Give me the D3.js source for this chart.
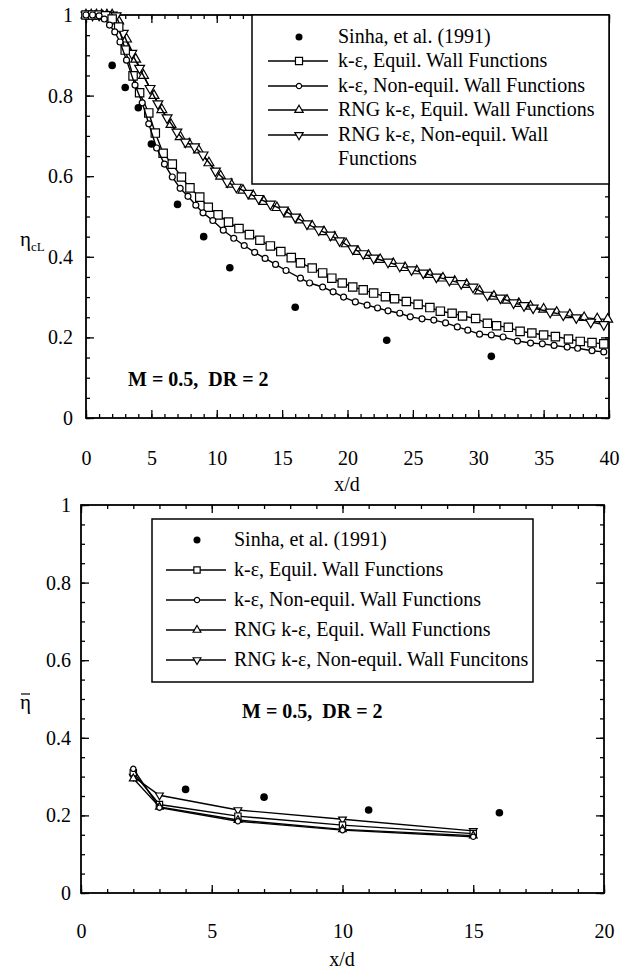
<!DOCTYPE html>
<html>
<head>
<meta charset="utf-8">
<script src="https://cdn.jsdelivr.net/npm/d3@7"></script>
<style>
body { margin: 0; background: #fff; }
text { font-family: "Liberation Serif", "Times New Roman", serif; fill: #000; }
</style>
</head>
<body>
<script>
// ---- top chart data (centreline effectiveness) ----
var sinhaX = [2, 3, 4, 5, 7, 9, 11, 16, 23, 31];
var sinhaY = [0.875, 0.82, 0.77, 0.68, 0.53, 0.45, 0.373, 0.275, 0.193, 0.153];

var keEqX = [0,0.5,1,1.5,2,2.5,3,3.6,4.1,4.8,5.3,5.9,6.6,7.3,7.95,8.7,9.35,10.1,10.9,11.7,12.5,13.3,14.1,14.9,15.7,16.4,17.3,18.1,18.8,19.6,20.4,21.2,22,22.9,23.6,24.5,25.4,26.3,27.1,28,28.8,29.8,30.7,31.4,32.3,33.2,34.1,35,35.9,36.9,37.8,38.7,39.6];
var keEqY = [1,1,1,0.998,0.99,0.97,0.913,0.849,0.807,0.757,0.707,0.657,0.63,0.598,0.571,0.548,0.523,0.504,0.486,0.47,0.455,0.441,0.427,0.413,0.398,0.385,0.372,0.36,0.347,0.335,0.325,0.318,0.31,0.301,0.296,0.289,0.282,0.274,0.265,0.26,0.253,0.247,0.235,0.229,0.225,0.215,0.211,0.206,0.202,0.196,0.19,0.187,0.184];

var keNeX = [0,0.5,1,1.4,1.8,2.2,2.6,3.1,3.75,4.3,4.8,5.4,6,6.6,7.2,7.8,8.4,8.95,9.7,10.5,11.3,12.1,12.9,13.7,14.5,15.3,16.4,17.1,18.1,18.9,19.7,20.6,21.5,22.3,23.1,24,24.8,25.7,26.6,27.5,28.4,29.2,30.1,31,31.9,33,34,34.9,35.8,36.8,37.6,38.7,39.6];
var keNeY = [1,1,0.998,0.99,0.975,0.958,0.933,0.888,0.826,0.782,0.73,0.67,0.63,0.598,0.57,0.55,0.528,0.509,0.49,0.466,0.446,0.428,0.411,0.396,0.381,0.366,0.347,0.335,0.325,0.313,0.3,0.288,0.28,0.273,0.266,0.26,0.251,0.246,0.243,0.236,0.226,0.218,0.208,0.206,0.201,0.191,0.186,0.184,0.18,0.176,0.173,0.167,0.164];

var rngEqX = [0,0.4,0.8,1.2,1.6,2,2.5,3.1,3.8,4.4,5.2,5.8,6.5,7.2,7.9,8.6,9.4,10.3,11.1,12,12.8,13.6,14.6,15.5,16.4,17.3,18.2,19,19.9,20.8,21.6,22.5,23.5,24.4,25.3,26.3,27.3,28.2,29.1,30.1,31.2,32.2,33.1,34,35,36,37,38.1,39.1,39.9];
var rngEqY = [1,1,1,1,1,1,0.985,0.94,0.89,0.85,0.8,0.765,0.728,0.698,0.68,0.665,0.633,0.6,0.58,0.565,0.551,0.537,0.522,0.506,0.491,0.476,0.462,0.449,0.432,0.413,0.403,0.393,0.383,0.373,0.365,0.356,0.347,0.339,0.331,0.315,0.302,0.292,0.284,0.277,0.27,0.262,0.256,0.249,0.246,0.245];

var rngNeX = [0,0.5,1,1.5,2,2.3,2.85,3.5,4.1,4.9,5.5,6.2,6.95,7.6,8.3,8.95,9.9,10.8,11.5,12.4,13.2,14.1,15.1,16,16.9,17.8,18.7,19.4,20.4,21.2,22,23.1,24,24.9,25.8,26.8,27.8,28.7,29.6,30.7,31.7,32.7,33.5,34.2,35.5,36.5,37.5,38.6,39.6];
var rngNeY = [1,1,1,1,1,0.998,0.955,0.905,0.868,0.818,0.78,0.745,0.71,0.685,0.673,0.653,0.613,0.586,0.573,0.558,0.545,0.531,0.516,0.499,0.482,0.467,0.454,0.44,0.42,0.408,0.397,0.387,0.377,0.368,0.36,0.35,0.342,0.334,0.325,0.305,0.298,0.286,0.279,0.273,0.263,0.256,0.249,0.238,0.232];

// ---- bottom chart data (laterally averaged effectiveness) ----
var bSinhaX = [4, 7, 11, 16];
var bSinhaY = [0.267, 0.247, 0.214, 0.207];
var bX = [2, 3, 6, 10, 15];
var bKeEq = [0.31, 0.228, 0.198, 0.175, 0.153];
var bKeNe = [0.32, 0.22, 0.185, 0.162, 0.145];
var bRngEq = [0.295, 0.222, 0.188, 0.164, 0.148];
var bRngNe = [0.30, 0.252, 0.214, 0.19, 0.16];

// ---- ticks and labels ----
var topXTicks = [0, 5, 10, 15, 20, 25, 30, 35, 40];
var topXLabels = ["0", "5", "10", "15", "20", "25", "30", "35", "40"];
var botXTicks = [0, 5, 10, 15, 20];
var botXLabels = ["0", "5", "10", "15", "20"];
var yTicks = [0, 0.2, 0.4, 0.6, 0.8, 1];
var yLabels = ["0", "0.2", "0.4", "0.6", "0.8", "1"];

var topLegend = ["Sinha, et al. (1991)", "k-ε, Equil. Wall Functions", "k-ε, Non-equil. Wall Functions",
                 "RNG k-ε, Equil. Wall Functions", ["RNG k-ε, Non-equil. Wall", "Functions"]];
var botLegend = ["Sinha, et al. (1991)", "k-ε, Equil. Wall Functions", "k-ε, Non-equil. Wall Functions",
                 "RNG k-ε, Equil. Wall Functions", "RNG k-ε, Non-equil. Wall Funcitons"];
var caseLabel = "M = 0.5,  DR = 2";

var width = 620, height = 971;
var svg = d3.select("body").append("svg")
    .attr("width", width)
    .attr("height", height);

var xTop = d3.scaleLinear().domain([0, 40]).range([86, 609]);
var yTop = d3.scaleLinear().domain([0, 1]).range([418, 15]);
var xBot = d3.scaleLinear().domain([0, 20]).range([81, 604]);
var yBot = d3.scaleLinear().domain([0, 1]).range([893, 505]);

var symTypes = {sq: d3.symbolSquare, ci: d3.symbolCircle, tu: d3.symbolTriangle, td: d3.symbolTriangle};

function marker(g, kind, size, cx, cy) {
  g.append("path")
    .attr("d", d3.symbol().type(symTypes[kind]).size(size)())
    .attr("transform", "translate(" + cx + "," + cy + ")" + (kind == "td" ? " rotate(180)" : ""))
    .attr("fill", "#fff")
    .attr("stroke", "#000")
    .attr("stroke-width", 1.2);
}

function frame(x, y, xTicks, xLabels, xMinor, xPad, yPad) {
  var g = svg.append("g");
  var xl = x.range()[0], xr = x.range()[1], yb = y.range()[0], yt = y.range()[1];
  var yMinor = d3.range(0, 1.001, 0.05);

  function put(axis, tr) {
    var a = g.append("g").attr("transform", tr).call(axis);
    a.select(".domain").remove();
    a.selectAll("line").attr("stroke", "#000").attr("stroke-width", 1.3);
    a.attr("font-family", null).attr("font-size", 20);
    return a;
  }
  put(d3.axisBottom(x).tickValues(xMinor).tickSize(-4).tickFormat(""), "translate(0," + yb + ")");
  put(d3.axisTop(x).tickValues(xMinor).tickSize(-4).tickFormat(""), "translate(0," + yt + ")");
  put(d3.axisLeft(y).tickValues(yMinor).tickSize(-4).tickFormat(""), "translate(" + xl + ",0)");
  put(d3.axisRight(y).tickValues(yMinor).tickSize(-4).tickFormat(""), "translate(" + xr + ",0)");

  put(d3.axisBottom(x).tickValues(xTicks).tickSize(-8).tickPadding(xPad)
        .tickFormat(function(d, i) { return xLabels[i]; }), "translate(0," + yb + ")");
  put(d3.axisTop(x).tickValues(xTicks).tickSize(-8).tickFormat(""), "translate(0," + yt + ")");
  put(d3.axisLeft(y).tickValues(yTicks).tickSize(-8).tickPadding(yPad)
        .tickFormat(function(d, i) { return yLabels[i]; }), "translate(" + xl + ",0)");
  put(d3.axisRight(y).tickValues(yTicks).tickSize(-8).tickFormat(""), "translate(" + xr + ",0)");

  g.append("rect")
    .attr("x", xl).attr("y", yt)
    .attr("width", xr - xl).attr("height", yb - yt)
    .attr("fill", "none").attr("stroke", "#000").attr("stroke-width", 1.8);
  return g;
}

function series(x, y, xs, ys, kind, size) {
  var pts = xs.map(function(d, i) { return [d, ys[i]]; });
  var g = svg.append("g");
  var line = d3.line().x(function(d) { return x(d[0]); }).y(function(d) { return y(d[1]); });
  g.append("path").attr("d", line(pts)).attr("fill", "none").attr("stroke", "#000").attr("stroke-width", 1.4);
  pts.forEach(function(p) { marker(g, kind, size, x(p[0]), y(p[1])); });
}

function dots(x, y, xs, ys) {
  svg.append("g").selectAll("circle")
    .data(xs)
    .enter()
    .append("circle")
    .attr("cx", function(d) { return x(d); })
    .attr("cy", function(d, i) { return y(ys[i]); })
    .attr("r", 3.8)
    .attr("fill", "#000");
}

function legend(box, rows, labels, lx, size) {
  var g = svg.append("g");
  g.append("rect")
    .attr("x", box[0]).attr("y", box[1]).attr("width", box[2]).attr("height", box[3])
    .attr("fill", "#fff").attr("stroke", "#000").attr("stroke-width", 1.5);
  var kinds = ["dot", "sq", "ci", "tu", "td"];
  kinds.forEach(function(k, i) {
    var cy = rows[i];
    if (k == "dot") {
      g.append("circle").attr("cx", lx[1]).attr("cy", cy).attr("r", 3.5).attr("fill", "#000");
    } else {
      g.append("line").attr("x1", lx[0]).attr("x2", lx[2]).attr("y1", cy).attr("y2", cy)
        .attr("stroke", "#000").attr("stroke-width", 1.4);
      marker(g, k, size[k], lx[1], cy);
    }
    var lab = labels[i];
    var t = g.append("text").attr("x", lx[3]).attr("y", cy + 6).attr("font-size", 20);
    if (Array.isArray(lab)) {
      lab.forEach(function(s, j) {
        t.append("tspan").attr("x", lx[3]).attr("dy", j ? rows[1] - rows[0] : 0).text(s);
      });
    } else {
      t.text(lab);
    }
  });
}

// ===== top chart =====
frame(xTop, yTop, topXTicks, topXLabels, d3.range(0, 41, 1), 33, 13);
series(xTop, yTop, rngEqX, rngEqY, "tu", 42);
series(xTop, yTop, rngNeX, rngNeY, "td", 42);
series(xTop, yTop, keEqX, keEqY, "sq", 70);
series(xTop, yTop, keNeX, keNeY, "ci", 28);
dots(xTop, yTop, sinhaX, sinhaY);
legend([252, 15, 357, 169], [37, 61, 86, 110, 135], topLegend, [268, 299, 328, 338],
       {sq: 50, ci: 22, tu: 30, td: 30});

svg.append("text").attr("x", 128).attr("y", 386).attr("font-size", 20)
  .attr("font-weight", "bold").style("white-space", "pre").text(caseLabel);
svg.append("text").attr("x", 347).attr("y", 491).attr("font-size", 20)
  .attr("text-anchor", "middle").text("x/d");
var yt = svg.append("text").attr("x", 20).attr("y", 246).attr("font-size", 21);
yt.append("tspan").text("η");
yt.append("tspan").attr("font-size", 13).attr("dy", 5).text("cL");

// ===== bottom chart =====
frame(xBot, yBot, botXTicks, botXLabels, d3.range(0, 21, 1), 31, 10);
series(xBot, yBot, bX, bRngNe, "td", 26);
series(xBot, yBot, bX, bKeEq, "sq", 40);
series(xBot, yBot, bX, bRngEq, "tu", 26);
series(xBot, yBot, bX, bKeNe, "ci", 22);
dots(xBot, yBot, bSinhaX, bSinhaY);
legend([152, 519, 381, 163], [540, 570, 600, 630, 660], botLegend, [166, 197, 226, 234],
       {sq: 40, ci: 22, tu: 26, td: 26});

svg.append("text").attr("x", 242).attr("y", 718).attr("font-size", 20)
  .attr("font-weight", "bold").style("white-space", "pre").text(caseLabel);
svg.append("text").attr("x", 342).attr("y", 966).attr("font-size", 20)
  .attr("text-anchor", "middle").text("x/d");
svg.append("text").attr("x", 20).attr("y", 709).attr("font-size", 21).text("η");
svg.append("line").attr("x1", 21).attr("x2", 30).attr("y1", 694).attr("y2", 694)
  .attr("stroke", "#000").attr("stroke-width", 1.2);
</script>
</body>
</html>
